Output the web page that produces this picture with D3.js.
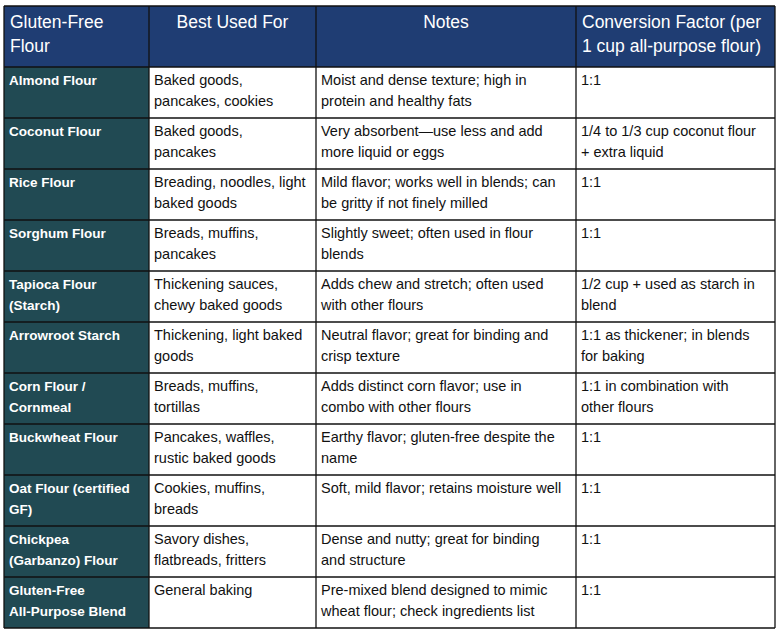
<!DOCTYPE html>
<html><head><meta charset="utf-8">
<script src="https://cdn.jsdelivr.net/npm/d3@7"></script>
<style>body{margin:0;background:#fff}</style>
</head><body><div class="chart"></div>
<script>
const headers = ["Gluten-Free\nFlour", "Best Used For", "Notes", "Conversion Factor (per\n1 cup all-purpose flour)"];
const flours = ["Almond Flour", "Coconut Flour", "Rice Flour", "Sorghum Flour", "Tapioca Flour\n(Starch)", "Arrowroot Starch", "Corn Flour /\nCornmeal", "Buckwheat Flour", "Oat Flour (certified\nGF)", "Chickpea\n(Garbanzo) Flour", "Gluten-Free\nAll-Purpose Blend"];
const bestUsed = ["Baked goods,\npancakes, cookies", "Baked goods,\npancakes", "Breading, noodles, light\nbaked goods", "Breads, muffins,\npancakes", "Thickening sauces,\nchewy baked goods", "Thickening, light baked\ngoods", "Breads, muffins,\ntortillas", "Pancakes, waffles,\nrustic baked goods", "Cookies, muffins,\nbreads", "Savory dishes,\nflatbreads, fritters", "General baking"];
const notes = ["Moist and dense texture; high in\nprotein and healthy fats", "Very absorbent\u2014use less and add\nmore liquid or eggs", "Mild flavor; works well in blends; can\nbe gritty if not finely milled", "Slightly sweet; often used in flour\nblends", "Adds chew and stretch; often used\nwith other flours", "Neutral flavor; great for binding and\ncrisp texture", "Adds distinct corn flavor; use in\ncombo with other flours", "Earthy flavor; gluten-free despite the\nname", "Soft, mild flavor; retains moisture well", "Dense and nutty; great for binding\nand structure", "Pre-mixed blend designed to mimic\nwheat flour; check ingredients list"];
const conversion = ["1:1", "1/4 to 1/3 cup coconut flour\n+ extra liquid", "1:1", "1:1", "1/2 cup + used as starch in\nblend", "1:1 as thickener; in blends\nfor baking", "1:1 in combination with\nother flours", "1:1", "1:1", "1:1", "1:1"];

const rows = flours.map((f, i) => [f, bestUsed[i], notes[i], conversion[i]]);
const colEdges = [4, 149, 316, 576, 775];
const topY = 6, headH = 61, rowH = 51;

const svg = d3.select(".chart").append("svg").attr("width", 779).attr("height", 629);
const y = d3.scaleLinear().domain([0, rows.length]).range([topY + headH, topY + headH + rows.length * rowH]);

// header
const hg = svg.append("g");
headers.forEach((h, c) => {
  hg.append("rect").attr("x", colEdges[c]).attr("y", topY).attr("width", colEdges[c+1]-colEdges[c]).attr("height", headH).attr("fill", "#1f3d73");
  const centered = c === 1 || c === 2;
  const t = hg.append("text").attr("fill", "#fff").attr("font-family", "Liberation Sans, Arial, sans-serif").attr("font-size", 17.5)
    .attr("text-anchor", centered ? "middle" : "start");
  h.split("\n").forEach((line, k) => t.append("tspan")
    .attr("x", centered ? (colEdges[c]+colEdges[c+1])/2 : colEdges[c]+6)
    .attr("y", topY + 22 + k*24).text(line));
});

// body
rows.forEach((r, i) => {
  const g = svg.append("g").attr("transform", `translate(0,${y(i)})`);
  r.forEach((cell, c) => {
    g.append("rect").attr("x", colEdges[c]).attr("y", 0).attr("width", colEdges[c+1]-colEdges[c]).attr("height", rowH)
      .attr("fill", c === 0 ? "#214a53" : "#fff");
    const t = g.append("text").attr("font-family", "Liberation Sans, Arial, sans-serif")
      .attr("fill", c === 0 ? "#fff" : "#111")
      .attr("font-size", c === 0 ? 13.5 : 14.5).attr("font-weight", c === 0 ? "bold" : "normal");
    cell.split("\n").forEach((line, k) => t.append("tspan").attr("x", colEdges[c]+5).attr("y", 18 + k*20.5).text(line));
  });
});

// grid lines
const bottom = y(rows.length);
colEdges.forEach(x => svg.append("line").attr("x1", x).attr("x2", x).attr("y1", topY).attr("y2", bottom).attr("stroke", "#111").attr("stroke-width", 1.3));
svg.append("line").attr("x1", colEdges[0]).attr("x2", colEdges[4]).attr("y1", topY).attr("y2", topY).attr("stroke", "#111").attr("stroke-width", 1.3);
d3.range(rows.length + 1).forEach(i => svg.append("line").attr("x1", colEdges[0]).attr("x2", colEdges[4]).attr("y1", y(i)).attr("y2", y(i)).attr("stroke", "#111").attr("stroke-width", 1.3));
</script></body></html>
